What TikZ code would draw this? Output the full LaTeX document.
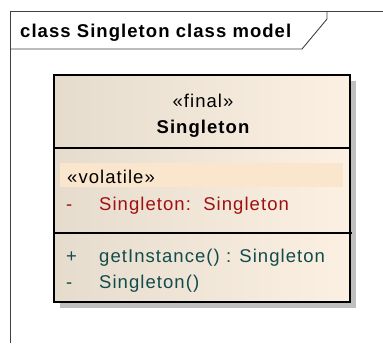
\documentclass[tikz,border=0pt]{standalone}
\usepackage{fontspec}
\setmainfont[LetterSpace=5.7]{Liberation Sans}
\usepackage{tikz}
\usetikzlibrary{positioning}

\definecolor{frameline}{HTML}{404040}
\definecolor{boxleft}{HTML}{E6DCCE}
\definecolor{boxright}{HTML}{FBF0E2}
\definecolor{hilite}{HTML}{FAE6CC}
\definecolor{attrred}{HTML}{A01010}
\definecolor{opteal}{HTML}{124B4B}
\definecolor{shadowgray}{HTML}{BFBFBF}

\tikzset{
  frame/.style={
    draw = frameline,
    line width = 0.9pt
  },
  classbox/.style={
    draw = black,
    line width = 2pt,
    left color = boxleft,
    right color = boxright
  },
  txt/.style={
    inner sep = 0pt,
    font = \fontsize{18.5}{22}\selectfont
  },
  member/.style={
    txt,
    anchor = base west
  },
}

\begin{document}
\begin{tikzpicture}[x=1pt, y=-1pt]
    \useasboundingbox (0,0) rectangle (383,343);
    % diagram frame and its name tab
    \draw[frame] (10,343) -- (10,11) -- (383,11);
    \draw[frame] (10,49) -- (302,49) -- (327,19) -- (327,11);
    \node[member, font=\fontsize{18.5}{22}\selectfont\bfseries] (title) at (20,37) {class Singleton class model};
    % the class
    \fill[shadowgray] (60,81) rectangle (356,308);
    \draw[classbox] (54,75) rectangle (350,302);
    \draw[line width=1.4pt] (54,148) -- (350,148);
    \draw[line width=1.4pt] (54,233) -- (352,233);
    \node[txt, anchor=base] (stereo) at (203,107) {«final»};
    \node[txt, anchor=base, font=\fontsize{18.5}{22}\selectfont\bfseries] (name) at (203,133) {Singleton};
    % attributes
    \fill[hilite] (60,163) rectangle (343,187);
    \node[member] (volatile) at (67,183) {«volatile»};
    \node[member, attrred] (attrvis) at (66,210) {-};
    \node[member, attrred] (attr) at (99,210) {Singleton:\ \ Singleton};
    % operations
    \node[member, opteal] (opvis1) at (66,262) {+};
    \node[member, opteal] (op1) at (99,262) {getInstance() : Singleton};
    \node[member, opteal] (opvis2) at (66,288) {-};
    \node[member, opteal] (op2) at (99,288) {Singleton()};
\end{tikzpicture}
\end{document}
